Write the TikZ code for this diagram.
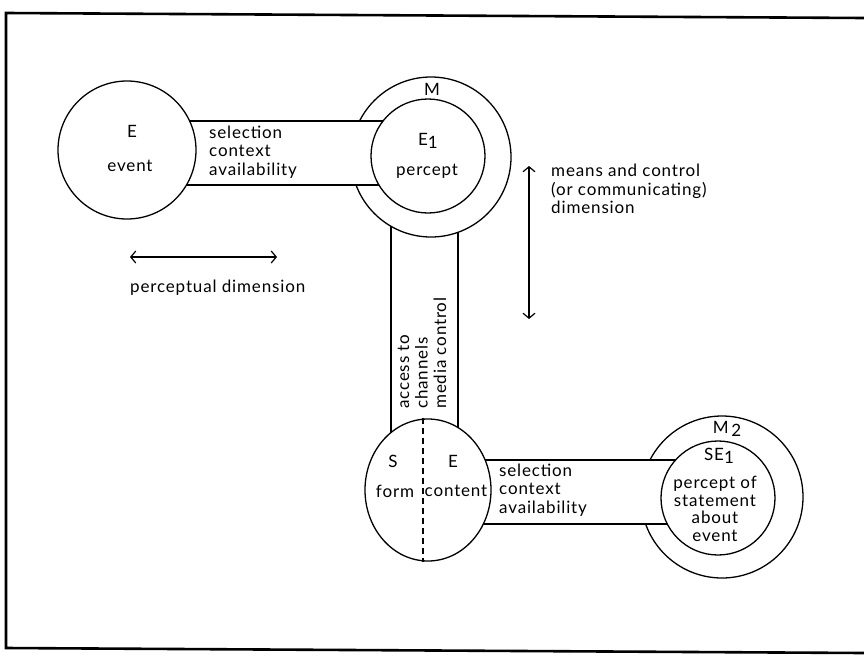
\documentclass[tikz,border=0pt]{standalone}
\usepackage{fontspec}
\setmainfont{Lato}[LetterSpace=5]
\usetikzlibrary{arrows.meta,shapes.geometric,calc}
\pgfdeclarelayer{lines}
\pgfdeclarelayer{rings}
\pgfdeclarelayer{bands}
\pgfsetlayers{lines,rings,bands,main}
\begin{document}
\begin{tikzpicture}[x=1pt,y=-1pt,
  stroke/.style={line width=1.3pt},
  disc/.style={circle,draw,fill=white,inner sep=0pt,stroke},
  oval/.style={ellipse,draw,fill=white,inner sep=0pt,stroke},
  lbl/.style={font=\fontsize{17}{18.5}\selectfont, inner sep=0pt},
  dimarrow/.style={{Straight Barb[length=5pt,width=12pt]}-{Straight Barb[length=5pt,width=12pt]}, line width=1.2pt},
  split/.style={dash pattern=on 6pt off 4pt, line width=1.1pt}]
\useasboundingbox (0,0) rectangle (864,656);

% frame (open on the right)
\draw[line width=2.6pt] (864,18) -- (6,13) -- (6,648) -- (864,653);

% event, percept, sign and statement-percept discs
\node[disc,minimum size=138pt] (ev) at (127,150) {};
\node[disc,minimum size=114pt] (pe) at (428,156) {};
\node[oval,minimum width=126pt,minimum height=142pt] (se) at (428,490) {};
\node[disc,minimum size=114pt] (se1) at (718,498) {};

% outer rings M and M2
\begin{pgfonlayer}{rings}
\node[disc,minimum size=160pt] (m1) at (431,157) {};
\node[disc,minimum size=162pt] (m2) at (722,497) {};
\end{pgfonlayer}

% horizontal bands
\begin{pgfonlayer}{bands}
\fill[white] (ev.center |- 0,121) rectangle (pe.center |- 0,185);
\draw[stroke] (ev.center |- 0,121) -- (pe.center |- 0,121);
\draw[stroke] (ev.center |- 0,185) -- (pe.center |- 0,185);
\fill[white] (se.center |- 0,460) rectangle (se1.center |- 0,524);
\draw[stroke] (se.center |- 0,460) -- (se1.center |- 0,460);
\draw[stroke] (se.center |- 0,524) -- (se1.center |- 0,524);
\end{pgfonlayer}

% vertical band between the M ring and the sign
\begin{pgfonlayer}{lines}
\draw[stroke] (m1.center -| 391,0) -- (se.center -| 391,0);
\draw[stroke] (m1.center -| 458,0) -- (se.center -| 458,0);
\end{pgfonlayer}

% form / content split
\draw[split] (se.north -| 423,0) -- (se.south -| 423,0);

% labels
\node[lbl] (tE) at (132,131) {E};
\node[lbl] (tev) at (130,166) {event};
\node[lbl,align=left,anchor=west] (b1) at (209,152) {selection\\context\\availability};
\node[lbl] (tM) at (432,89) {M};
\node[lbl] (tE1) at (428,141) {E\raisebox{-0.4ex}{1}};
\node[lbl] (tpe) at (427,171) {percept};
\node[lbl,align=left,anchor=west,rotate=90] (vb) at (422,409) {access to\\channels\\media control};
\node[lbl] (tS) at (393,461) {S};
\node[lbl] (tSE) at (453,461) {E};
\node[lbl] (tf) at (395,491) {form};
\node[lbl] (tc) at (456,491) {content};
\node[lbl,align=left,anchor=west] (b2) at (499,490) {selection\\context\\availability};
\node[lbl] (tM2) at (727,429) {M\,\raisebox{-0.4ex}{2}};
\node[lbl] (tSE1) at (719,456) {SE\raisebox{-0.4ex}{1}};
\node[lbl,align=center,font=\fontsize{17}{17.5}\selectfont] (tse1) at (715,509) {percept of\\statement\\about\\event};

% dimension arrows
\coordinate (pl) at (130,257);
\coordinate (pr) at (277,257);
\draw[dimarrow] (pl) -- (pr);
\node[lbl,anchor=west] (pd) at (130,288) {perceptual dimension};
\coordinate (mt) at (529,166);
\coordinate (mb) at (529,319);
\draw[dimarrow] (mt) -- (mb);
\node[lbl,align=left,anchor=west] (md) at (551,189) {means and control\\(or communicating)\\dimension};
\end{tikzpicture}
\end{document}
